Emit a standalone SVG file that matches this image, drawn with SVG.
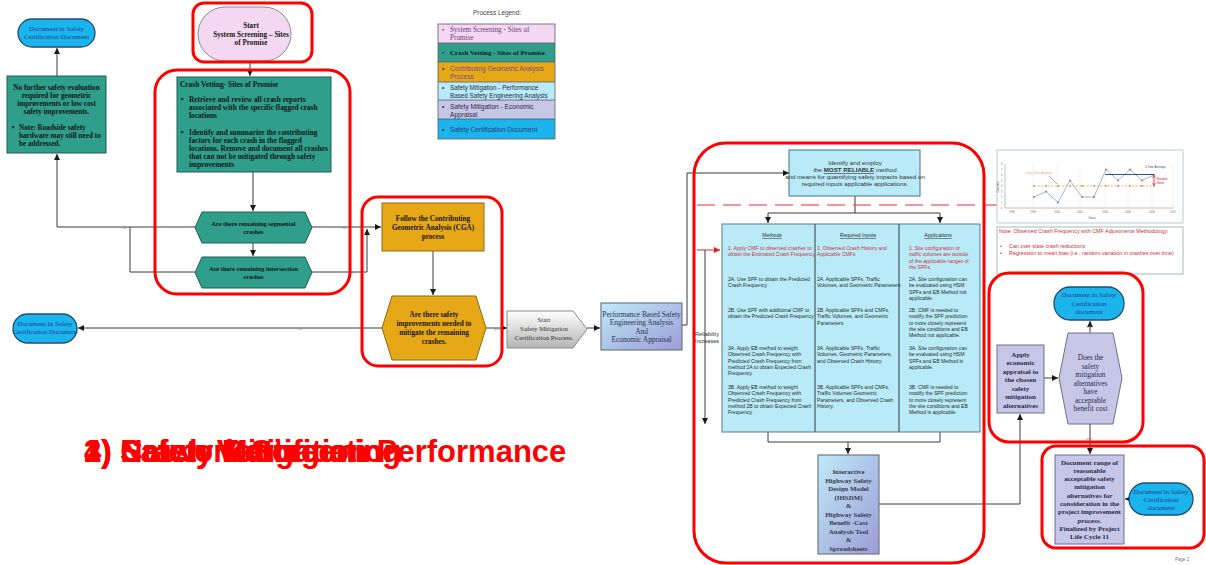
<svg xmlns="http://www.w3.org/2000/svg" width="1206" height="565" viewBox="0 0 1206 565">
  <style>
    .teal{fill:#2f9e8b;stroke:#1e5e54;stroke-width:1}
    .doc{fill:#1cb4ec;stroke:#1f4e79;stroke-width:1.3}
    .orng{fill:#e6a817;stroke:#8a6a10;stroke-width:1}
    .lav{fill:#c6c6e6;stroke:#6e6e8e;stroke-width:1}
    .cyan{fill:#b9eaf7;stroke:#4f6f7c;stroke-width:1}
    .ring{fill:none;stroke:#ff0000;stroke-width:3}
    .ln{fill:none;stroke:#3a3a3a;stroke-width:1}
    .ser{font-family:"Liberation Serif",serif}
    .sans{font-family:"Liberation Sans",Arial,sans-serif}
    .doct{font-family:"Liberation Serif",serif;font-size:6.9px;fill:#1f3f8f;text-anchor:middle}
    .bt{font-family:"Liberation Serif",serif;font-weight:bold;font-size:7.2px;fill:#161616}
    .mid{text-anchor:middle}
    .lbl{font-family:"Liberation Sans",sans-serif;font-size:4px;fill:#888}
    .tb{font-family:"Liberation Sans",sans-serif;font-size:5.1px;fill:#2a2a2a}
    .tr{fill:#d0303a}
    .big{font-family:"Liberation Sans",Arial,sans-serif;font-weight:bold;font-size:31px;fill:#ff0000}
  </style>
  <defs>
    <marker id="arr" markerUnits="userSpaceOnUse" markerWidth="7" markerHeight="7" refX="6" refY="3" orient="auto">
      <path d="M0,0 L6,3 L0,6 z" fill="#1a1a1a"/>
    </marker>
    <marker id="arrR" markerUnits="userSpaceOnUse" markerWidth="7" markerHeight="7" refX="6" refY="3" orient="auto">
      <path d="M0,0 L6,3 L0,6 z" fill="#e02020"/>
    </marker>
    <linearGradient id="pb" x1="0" y1="0" x2="1" y2="1">
      <stop offset="0" stop-color="#bfeaf8"/>
      <stop offset="1" stop-color="#9c9cd6"/>
    </linearGradient>
    <linearGradient id="gp" x1="0" y1="0" x2="0" y2="1">
      <stop offset="0" stop-color="#ffffff"/>
      <stop offset="1" stop-color="#b4b4b4"/>
    </linearGradient>
  </defs>

  <rect width="1206" height="565" fill="#ffffff"/>

  <!-- connectors -->
  <g id="connectors">
    <path class="ln" d="M57,76 V48" marker-end="url(#arr)"/>
    <path class="ln" d="M57,227 V154" marker-end="url(#arr)"/>
    <path class="ln" d="M195,227 H57"/>
    <path class="ln" d="M195,272 H130 V227"/>
    <path class="ln" d="M250,62 V76" marker-end="url(#arr)"/>
    <path class="ln" d="M253,172 V211" marker-end="url(#arr)"/>
    <path class="ln" d="M253,243 V256" marker-end="url(#arr)"/>
    <path class="ln" d="M312,227 H381" marker-end="url(#arr)"/>
    <path class="ln" d="M312,272 H367 V229" marker-end="url(#arr)"/>
    <path class="ln" d="M433,251 V295" marker-end="url(#arr)"/>
    <path class="ln" d="M382,328 H78" marker-end="url(#arr)"/>
    <path class="ln" d="M486,328 H507" marker-end="url(#arr)"/>
    <path class="ln" d="M587,328 H600" marker-end="url(#arr)"/>
    <path class="ln" d="M682,325 H687 V173 H789" marker-end="url(#arr)"/>
    <path class="ln" d="M855,196 V213 M768,213 H940 M768,213 V223" marker-end="url(#arr)"/>
    <path class="ln" d="M940,213 V223" marker-end="url(#arr)"/>
    <path d="M697,205 H1000" stroke="#e03030" stroke-width="1.2" stroke-dasharray="18,8" fill="none"/>
    <path d="M697,250 H720" stroke="#e02020" stroke-width="1" fill="none" marker-end="url(#arrR)"/>
    <path class="ln" d="M705,250 V424" marker-end="url(#arr)"/>
    <path class="ln" d="M768,432 V442 H940 V432 M848,442 V454" marker-end="url(#arr)"/>
    <path class="ln" d="M879,504 H1020 V414" marker-end="url(#arr)"/>
    <path class="ln" d="M1044,378 H1058" marker-end="url(#arr)"/>
    <path class="ln" d="M1090,333 V321" marker-end="url(#arr)"/>
    <path class="ln" d="M1090,424 V454" marker-end="url(#arr)"/>
    <path class="ln" d="M1129,499 H1125" marker-end="url(#arr)"/>
    <text class="lbl" x="122" y="228.5">no</text>
    <text class="lbl" x="342" y="228.5">no</text>
    <text class="lbl" x="349" y="273.5">yes</text>
    <text class="lbl" x="298" y="329.5">no</text>
    <text class="lbl" x="494" y="329.5">yes</text>
    <text class="lbl" x="1087" y="328">no</text>
    <text class="lbl" x="1086" y="440">yes</text>
  </g>

  <!-- left document terminator (top) -->
  <g id="docTopLeft">
    <rect class="doc" x="18" y="19" width="77" height="28" rx="14"/>
    <text class="doct" x="56.5" y="31">Document in Safety</text>
    <text class="doct" x="56.5" y="39">Certification Document</text>
  </g>

  <g id="noFurther">
    <rect class="teal" x="7" y="76" width="99" height="77"/>
    <g class="bt mid">
      <text x="56.5" y="89.5">No further safety evaluation</text>
      <text x="56.5" y="97.5">required for geometric</text>
      <text x="56.5" y="105.5">improvements or low cost</text>
      <text x="56.5" y="113.5">safety improvements.</text>
    </g>
    <g class="bt">
      <text x="12" y="129.5">•</text>
      <text x="19" y="129.5">Note: Roadside safety</text>
      <text x="19" y="137.5">hardware may still need to</text>
      <text x="19" y="145.5">be addressed.</text>
    </g>
  </g>

  <g id="start">
    <rect x="198" y="7" width="93" height="54" rx="27" fill="#f4d8f1" stroke="#8a8a8a" stroke-width="1"/>
    <g class="bt mid">
      <text x="251" y="28">Start</text>
      <text x="251" y="36.5">System Screening – Sites</text>
      <text x="251" y="45">of Promise</text>
    </g>
    <rect class="ring" x="193" y="3" width="119" height="59" rx="11"/>
  </g>

  <g id="crashVetting">
    <rect class="teal" x="177" y="77" width="154" height="95"/>
    <g class="bt" style="font-size:7.4px">
      <text x="180" y="87">Crash Vetting- Sites of Promise</text>
      <text x="181" y="102">•</text>
      <text x="189" y="102">Retrieve and review all crash reports</text>
      <text x="189" y="110">associated with the specific flagged crash</text>
      <text x="189" y="118">locations</text>
      <text x="181" y="135">•</text>
      <text x="189" y="135">Identify and summarize the contributing</text>
      <text x="189" y="143">factors for each crash in the flagged</text>
      <text x="189" y="151">locations. Remove and document all crashes</text>
      <text x="189" y="159">that can not be mitigated through safety</text>
      <text x="189" y="167">improvements</text>
    </g>
  </g>

  <g id="segmental">
    <polygon class="teal" points="202,212 305,212 312,227.5 305,243 202,243 195,227.5"/>
    <g class="bt mid" style="font-size:6.4px">
      <text x="253.5" y="225.5">Are there remaining segmental</text>
      <text x="253.5" y="234">crashes</text>
    </g>
  </g>

  <g id="intersection">
    <polygon class="teal" points="202,257 305,257 312,272.5 305,288 202,288 195,272.5"/>
    <g class="bt mid" style="font-size:6.4px">
      <text x="253.5" y="270.5">Are there remaining intersection</text>
      <text x="253.5" y="279">crashes</text>
    </g>
  </g>
  <rect class="ring" x="155" y="70" width="195" height="224" rx="22"/>

  <g id="cga">
    <rect class="orng" x="382" y="203" width="102" height="48"/>
    <g class="bt mid" style="font-size:7.2px">
      <text x="433" y="221">Follow the Contributing</text>
      <text x="433" y="230">Geometric Analysis (CGA)</text>
      <text x="433" y="239">process</text>
    </g>
  </g>

  <g id="safetyNeeded">
    <polygon class="orng" points="392,296 476,296 486,328 476,360 392,360 382,328"/>
    <g class="bt mid" style="font-size:7.2px">
      <text x="434" y="317">Are there safety</text>
      <text x="434" y="326">improvements needed to</text>
      <text x="434" y="335">mitigate the remaining</text>
      <text x="434" y="344">crashes.</text>
    </g>
  </g>
  <rect class="ring" x="362" y="197" width="140" height="169" rx="16"/>

  <g id="docLeft">
    <rect class="doc" x="13" y="314" width="64" height="29" rx="14.5"/>
    <text class="doct" x="45" y="326">Document in Safety</text>
    <text class="doct" x="45" y="334">Certification Document</text>
  </g>

  <g id="startMitigation">
    <polygon points="507,311 573,311 587,329 573,348 507,348" fill="url(#gp)" stroke="#8a8a8a" stroke-width="1"/>
    <g class="ser mid" style="font-size:6.8px;fill:#333">
      <text x="544" y="322">Start</text>
      <text x="544" y="331">Safety Mitigation</text>
      <text x="544" y="340">Certification Process.</text>
    </g>
  </g>

  <g id="performance">
    <rect x="601" y="303" width="81" height="47" fill="url(#pb)" stroke="#6a7a88" stroke-width="1.2"/>
    <g class="ser mid" style="font-size:7.4px;fill:#2a3550">
      <text x="641.5" y="316.5">Performance Based Safety</text>
      <text x="641.5" y="325">Engineering Analysis</text>
      <text x="641.5" y="333.5">And</text>
      <text x="641.5" y="342">Economic Appraisal</text>
    </g>
  </g>

  <!-- process legend -->
  <g id="legend">
    <text class="sans mid" x="497" y="15" style="font-size:6.4px;fill:#444">Process Legend:</text>
    <rect x="438" y="24" width="117" height="19" fill="#f4d8f1"/>
    <rect x="438" y="43" width="117" height="19" fill="#2f9e8b"/>
    <rect x="438" y="62" width="117" height="20" fill="#e6a817"/>
    <rect x="438" y="82" width="117" height="18" fill="#b9eaf7"/>
    <rect x="438" y="100" width="117" height="19" fill="#c6c6e6"/>
    <rect x="438" y="119" width="117" height="20" fill="#1cb4ec"/>
    <g fill="none" stroke="#5a5a6a" stroke-width="0.8">
      <rect x="438" y="24" width="117" height="115"/>
      <path d="M438,43 H555 M438,62 H555 M438,82 H555 M438,100 H555 M438,119 H555"/>
    </g>
    <g style="font-size:6.6px">
      <text class="ser" x="442" y="32" fill="#333">•</text>
      <text class="ser" x="450" y="32" fill="#6a3a7a" style="font-size:7.2px">System Screening - Sites of</text>
      <text class="ser" x="450" y="40" fill="#6a3a7a" style="font-size:7.2px">Promise</text>
      <text class="ser" x="442" y="55" fill="#222">•</text>
      <text class="ser" x="450" y="55" fill="#1a1a1a" font-weight="bold" style="font-size:7px">Crash Vetting - Sites of Promise</text>
      <text class="sans" x="442" y="70.5" fill="#333">•</text>
      <text class="sans" x="450" y="70.5" fill="#7a4a8a">Contributing Geometric Analysis</text>
      <text class="sans" x="450" y="78.5" fill="#7a4a8a">Process</text>
      <text class="sans" x="442" y="89.5" fill="#333">•</text>
      <text class="sans" x="450" y="89.5" fill="#2a2a4a" style="font-size:6.3px">Safety Mitigation - Performance</text>
      <text class="sans" x="450" y="97.5" fill="#2a2a4a" style="font-size:6.3px">Based Safety Engineering Analysis</text>
      <text class="sans" x="442" y="108.5" fill="#333">•</text>
      <text class="sans" x="450" y="108.5" fill="#2a2a4a">Safety Mitigation - Economic</text>
      <text class="sans" x="450" y="116.5" fill="#2a2a4a">Appraisal</text>
      <text class="sans" x="442" y="131.5" fill="#333">•</text>
      <text class="sans" x="450" y="131.5" fill="#2a3a7a">Safety Certification Document</text>
    </g>
  </g>

  <!-- overlapping step titles -->
  <g id="stepTitles" class="big">
    <text x="84" y="462">1) Network Screening</text>
    <text x="84" y="462">2) Crash Vetting</text>
    <text x="84" y="462">3) Safety Certification</text>
    <text x="84" y="462">4) Safety Mitigation Performance</text>
  </g>

  <!-- right page -->
  <g id="identify">
    <rect class="cyan" x="789" y="150" width="131" height="46" stroke-width="1.3"/>
    <g class="sans mid" style="font-size:6.2px;fill:#333">
      <text x="855" y="165">Identify and employ</text>
      <text x="855" y="172">the <tspan text-decoration="underline" font-weight="bold">MOST RELIABLE</tspan> method</text>
      <text x="855" y="179">and means for quantifying safety impacts based on</text>
      <text x="855" y="186">required inputs applicable applications.</text>
    </g>
  </g>

  <g id="reliability">
    <text class="sans mid" x="707" y="336" style="font-size:5.6px;fill:#333">Reliability</text>
    <text class="sans mid" x="707" y="343" style="font-size:5.6px;fill:#333">Increases</text>
  </g>

  <g id="methodTable">
    <rect x="722" y="224" width="258" height="208" fill="#b9eaf7" stroke="#5a7a88" stroke-width="1"/>
    <path d="M815,224 V432 M899,224 V432" stroke="#4a5a66" stroke-width="1.2"/>
    <g class="tb mid" text-decoration="underline">
      <text x="772" y="237">Methods</text>
      <text x="858" y="237">Required Inputs</text>
      <text x="938" y="237">Applications</text>
    </g>
    <g class="tb">
      <text class="tr" x="728" y="250">1. Apply CMF to observed crashes to</text>
      <text class="tr" x="728" y="256.3">obtain the Estimated Crash Frequency</text>
      <text x="728" y="281">2A. Use SPF to obtain the Predicted</text>
      <text x="728" y="287.3">Crash Frequency</text>
      <text x="728" y="312">2B. Use SPF with additional CMF to</text>
      <text x="728" y="318.3">obtain the Predicted Crash Frequency</text>
      <text x="728" y="350">3A. Apply EB method to weight</text>
      <text x="728" y="356.3">Observed Crash Frequency with</text>
      <text x="728" y="362.6">Predicted Crash Frequency from</text>
      <text x="728" y="368.9">method 2A to obtain Expected Crash</text>
      <text x="728" y="375.2">Frequency</text>
      <text x="728" y="389">3B. Apply EB method to weight</text>
      <text x="728" y="395.3">Observed Crash Frequency with</text>
      <text x="728" y="401.6">Predicted Crash Frequency from</text>
      <text x="728" y="407.9">method 2B to obtain Expected Crash</text>
      <text x="728" y="414.2">Frequency</text>

      <text class="tr" x="817" y="250">1. Observed Crash History and</text>
      <text class="tr" x="817" y="256.3">Applicable CMFs</text>
      <text x="817" y="281">2A. Applicable SPFs, Traffic</text>
      <text x="817" y="287.3">Volumes, and Geometric Parameters</text>
      <text x="817" y="312">2B. Applicable SPFs and CMFs,</text>
      <text x="817" y="318.3">Traffic Volumes, and Geometric</text>
      <text x="817" y="324.6">Parameters</text>
      <text x="817" y="350">3A. Applicable SPFs, Traffic</text>
      <text x="817" y="356.3">Volumes, Geometric Parameters,</text>
      <text x="817" y="362.6">and Observed Crash History.</text>
      <text x="817" y="389">3B. Applicable SPFs and CMFs,</text>
      <text x="817" y="395.3">Traffic Volumes Geometric</text>
      <text x="817" y="401.6">Parameters, and  Observed Crash</text>
      <text x="817" y="407.9">History.</text>

      <text class="tr" x="909" y="250">1. Site configuration or</text>
      <text class="tr" x="909" y="256.3">traffic volumes are outside</text>
      <text class="tr" x="909" y="262.6">of the applicable ranges of</text>
      <text class="tr" x="909" y="268.9">the SPFs.</text>
      <text x="909" y="281">2A. Site configuration can</text>
      <text x="909" y="287.3">be evaluated using HSM</text>
      <text x="909" y="293.6">SPFs and EB Method not</text>
      <text x="909" y="299.9">applicable.</text>
      <text x="909" y="312">2B. CMF is needed to</text>
      <text x="909" y="318.3">modify the SPF prediction</text>
      <text x="909" y="324.6">to more closely represent</text>
      <text x="909" y="330.9">the site conditions and EB</text>
      <text x="909" y="337.2">Method not applicable.</text>
      <text x="909" y="350">3A. Site configuration can</text>
      <text x="909" y="356.3">be evaluated using HSM</text>
      <text x="909" y="362.6">SPFs and EB Method is</text>
      <text x="909" y="368.9">applicable.</text>
      <text x="909" y="389">3B. CMF is needed to</text>
      <text x="909" y="395.3">modify the SPF prediction</text>
      <text x="909" y="401.6">to more closely represent</text>
      <text x="909" y="407.9">the site conditions and EB</text>
      <text x="909" y="414.2">Method is applicable.</text>
    </g>
  </g>

  <g id="ihsdm">
    <rect x="818" y="455" width="61" height="99" fill="url(#pb)" stroke="#6a7a88" stroke-width="1.2"/>
    <g class="bt mid" style="font-size:6.9px;fill:#3a3a4a">
      <text x="848.5" y="474">Interactive</text>
      <text x="848.5" y="482.5">Highway Safety</text>
      <text x="848.5" y="491">Design Model</text>
      <text x="848.5" y="499.5">(IHSDM)</text>
      <text x="848.5" y="508">&amp;</text>
      <text x="848.5" y="516.5">Highway Safety</text>
      <text x="848.5" y="525">Benefit -Cost</text>
      <text x="848.5" y="533.5">Analysis Tool</text>
      <text x="848.5" y="542">&amp;</text>
      <text x="848.5" y="550.5">Spreadsheets</text>
    </g>
  </g>
  <rect class="ring" x="694" y="143" width="290" height="420" rx="32"/>

  <!-- crash history chart -->
  <g id="chart">
    <rect x="997" y="150" width="186" height="73" fill="#ffffff" stroke="#b8ccd8" stroke-width="1"/>
    <g stroke="#e4e4e4" stroke-width="0.5">
      <path d="M1033,164 V208 M1057,164 V208 M1080,164 V208 M1105,164 V208 M1128,164 V208 M1152,164 V208 M1173,164 V208"/>
    </g>
    <path d="M1005,164 V208 H1174" stroke="#999" stroke-width="0.6" fill="none"/>
    <g class="sans" style="font-size:2.6px;fill:#777">
      <text x="1001" y="165">8</text><text x="1001" y="170.5">7</text><text x="1001" y="176">6</text>
      <text x="1001" y="181.5">5</text><text x="1001" y="187">4</text><text x="1001" y="192.5">3</text>
      <text x="1001" y="198">2</text><text x="1001" y="203.5">1</text><text x="1001" y="209">0</text>
      <text x="1009" y="213">1996</text><text x="1030" y="213">1998</text><text x="1054" y="213">2000</text>
      <text x="1077" y="213">2002</text><text x="1102" y="213">2004</text><text x="1125" y="213">2006</text>
      <text x="1149" y="213">2008</text><text x="1170" y="213">2010</text>
    </g>
    <text class="sans mid" x="1092" y="219" style="font-size:3px;fill:#555">Years</text>
    <text class="sans mid" transform="translate(999,187) rotate(-90)" style="font-size:3px;fill:#555">Crashes</text>
    <path d="M1034,186 H1154" stroke="#f0a860" stroke-width="0.9" stroke-dasharray="2,1.5" fill="none"/>
    <g fill="#f0a860">
      <rect x="1033" y="185" width="2" height="2"/><rect x="1045" y="185" width="2" height="2"/>
      <rect x="1057" y="185" width="2" height="2"/><rect x="1069" y="185" width="2" height="2"/>
      <rect x="1081" y="185" width="2" height="2"/><rect x="1093" y="185" width="2" height="2"/>
      <rect x="1105" y="185" width="2" height="2"/><rect x="1117" y="185" width="2" height="2"/>
      <rect x="1129" y="185" width="2" height="2"/><rect x="1141" y="185" width="2" height="2"/>
      <rect x="1153" y="185" width="2" height="2"/>
    </g>
    <polyline points="1034,197 1046,191.5 1058,202.5 1070,180.5 1082,197 1094,197 1106,169.5 1118,180.5 1130,169.5 1142,180.5 1154,175" fill="none" stroke="#a8b4c8" stroke-width="1"/>
    <g fill="#6c7fa0">
      <circle cx="1034" cy="197" r="0.9"/><circle cx="1046" cy="191.5" r="0.9"/><circle cx="1058" cy="202.5" r="0.9"/>
      <circle cx="1070" cy="180.5" r="0.9"/><circle cx="1082" cy="197" r="0.9"/><circle cx="1094" cy="197" r="0.9"/>
      <circle cx="1106" cy="169.5" r="0.9"/><circle cx="1118" cy="180.5" r="0.9"/><circle cx="1130" cy="169.5" r="0.9"/>
      <circle cx="1142" cy="180.5" r="0.9"/><circle cx="1154" cy="175" r="0.9"/>
    </g>
    <path d="M1105,174.5 H1154" stroke="#2f4f8f" stroke-width="1.2" fill="none"/>
    <path d="M1154,176 V185" stroke="#e02020" stroke-width="0.8" fill="none"/>
    <path d="M1152.5,178 L1154,175.5 L1155.5,178 M1152.5,183 L1154,185.5 L1155.5,183" stroke="#e02020" stroke-width="0.6" fill="none"/>
    <text class="sans" x="1145" y="168" style="font-size:3px;fill:#2f4f8f">3-Year Average</text>
    <text class="sans" x="1157" y="180" style="font-size:2.8px;fill:#e02020">Random</text>
    <text class="sans" x="1157" y="183.5" style="font-size:2.8px;fill:#e02020">Noise</text>
    <text class="sans" x="1026" y="174" style="font-size:3px;fill:#f0a860">Long-Term Average</text>
    <path d="M1049,176 L1057,184" stroke="#555" stroke-width="0.5"/>
  </g>

  <g id="note">
    <rect x="997" y="227" width="186" height="47" fill="#ffffff" stroke="#9cc0b8" stroke-width="1"/>
    <g class="sans" style="font-size:5.4px;fill:#d03038">
      <text x="999" y="233">Note: Observed Crash Frequency with CMF Adjustments Methodology:</text>
      <text x="1000" y="248">•</text>
      <text x="1009" y="248">Can over state crash reductions</text>
      <text x="1000" y="255">•</text>
      <text x="1009" y="255">Regression to mean bias  (i.e., random variation in crashes over time)</text>
    </g>
  </g>

  <g id="docBenefit">
    <rect class="doc" x="1054" y="287" width="70" height="33" rx="16"/>
    <text class="doct" x="1089" y="297">Document in Safety</text>
    <text class="doct" x="1089" y="305.5">Certification</text>
    <text class="doct" x="1089" y="314">document</text>
  </g>

  <g id="benefitCost">
    <polygon class="lav" points="1068,333 1113,333 1122,378 1113,424 1068,424 1059,378"/>
    <g class="ser mid" style="font-size:7.3px;fill:#2a2a4a">
      <text x="1090.5" y="360">Does the</text>
      <text x="1090.5" y="368.5">safety</text>
      <text x="1090.5" y="377">mitigation</text>
      <text x="1090.5" y="385.5">alternatives</text>
      <text x="1090.5" y="394">have</text>
      <text x="1090.5" y="402.5">acceptable</text>
      <text x="1090.5" y="411">benefit cost</text>
    </g>
  </g>

  <g id="applyEconomic">
    <rect class="lav" x="997" y="345" width="47" height="68"/>
    <g class="bt mid" style="font-size:7px;fill:#2a2a4a">
      <text x="1020.5" y="356.5">Apply</text>
      <text x="1020.5" y="365">economic</text>
      <text x="1020.5" y="373.5">appraisal to</text>
      <text x="1020.5" y="382">the chosen</text>
      <text x="1020.5" y="390.5">safety</text>
      <text x="1020.5" y="399">mitigation</text>
      <text x="1020.5" y="407.5">alternatives</text>
    </g>
  </g>
  <rect class="ring" x="989" y="273" width="154" height="169" rx="20"/>

  <g id="documentRange">
    <rect class="lav" x="1055" y="455" width="69" height="89"/>
    <g class="bt mid" style="font-size:7px;fill:#2a2a4a">
      <text x="1089.5" y="464.5">Document range of</text>
      <text x="1089.5" y="472.8">reasonable</text>
      <text x="1089.5" y="481.1">acceptable safety</text>
      <text x="1089.5" y="489.4">mitigation</text>
      <text x="1089.5" y="497.7">alternatives for</text>
      <text x="1089.5" y="506">consideration in the</text>
      <text x="1089.5" y="514.3">project improvement</text>
      <text x="1089.5" y="522.6">process.</text>
      <text x="1089.5" y="530.9">Finalized by Project</text>
      <text x="1089.5" y="539.2">Life Cycle  11</text>
    </g>
  </g>

  <g id="docFinal">
    <rect class="doc" x="1129" y="483" width="64" height="32" rx="16"/>
    <text class="doct" x="1161" y="494">Document in Safety</text>
    <text class="doct" x="1161" y="502">Certification</text>
    <text class="doct" x="1161" y="510">document</text>
  </g>
  <rect class="ring" x="1042" y="446" width="162" height="102" rx="14"/>

  <text class="sans" x="1175" y="561" style="font-size:4.5px;fill:#777">Page 2</text>
</svg>
